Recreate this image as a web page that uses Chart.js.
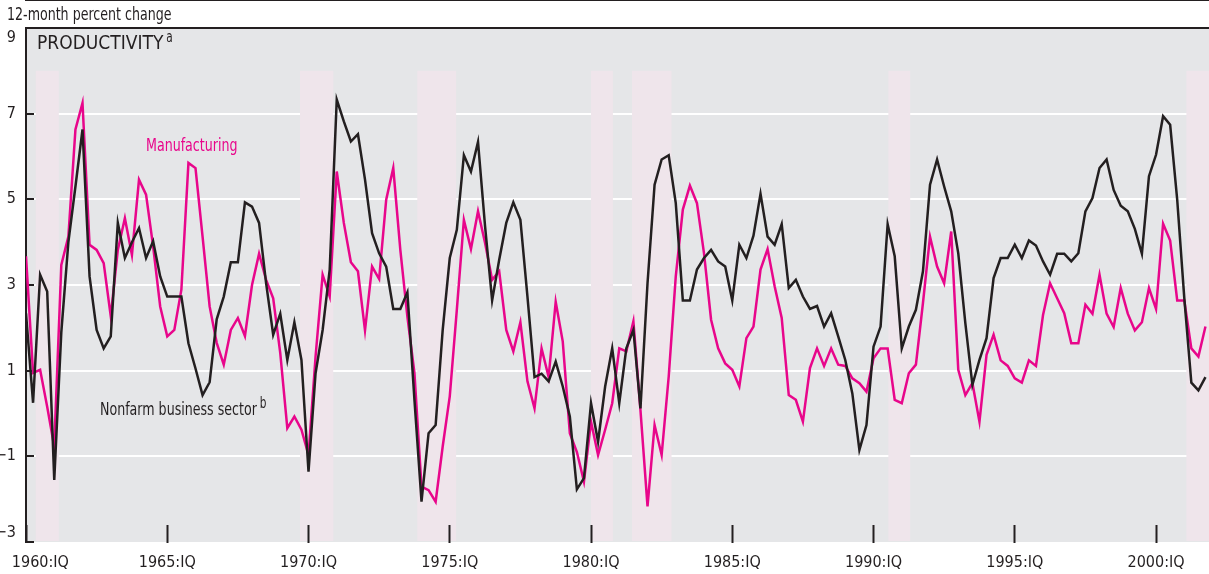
<!DOCTYPE html>
<html>
<head>
<meta charset="utf-8">
<title>Productivity</title>
<script src="https://cdn.jsdelivr.net/npm/chart.js@4.4.1/dist/chart.umd.min.js"></script>
<style>
  html, body { margin: 0; padding: 0; background: #fff; }
  #wrap { width: 1209px; height: 574px; }
</style>
</head>
<body>
<div id="wrap"><canvas id="prodChart" width="1209" height="574"></canvas></div>
<script>
// 12-month percent change, quarterly, 1960:IQ .. 2001:IVQ
var manufacturing = [
  3.67, 0.95, 1.02, 0.16, -0.77, 3.47, 4.13, 6.63, 7.25, 3.94,
  3.82, 3.51, 2.27, 3.82, 4.56, 3.70, 5.46, 5.11, 3.90, 2.50,
  1.80, 1.95, 2.89, 5.85, 5.73, 4.13, 2.50, 1.65, 1.14, 1.95,
  2.23, 1.81, 3.00, 3.73, 3.12, 2.69, 1.41, -0.34, -0.07, -0.38,
  -0.97, 1.33, 3.24, 2.73, 5.65, 4.45, 3.53, 3.32, 1.94, 3.43,
  3.14, 4.99, 5.73, 3.82, 2.26, 0.94, -1.71, -1.79, -2.06, -0.77,
  0.40, 2.42, 4.52, 3.84, 4.72, 3.98, 3.12, 3.32, 1.95, 1.45,
  2.13, 0.75, 0.12, 1.52, 0.85, 2.61, 1.68, -0.46, -0.90, -1.59,
  -0.19, -0.97, -0.38, 0.24, 1.52, 1.45, 2.15, 0.08, -2.17, -0.27,
  -0.97, 0.86, 3.20, 4.76, 5.32, 4.91, 3.74, 2.19, 1.52, 1.17,
  1.02, 0.63, 1.76, 2.03, 3.36, 3.84, 2.97, 2.23, 0.43, 0.32,
  -0.19, 1.06, 1.52, 1.11, 1.52, 1.14, 1.11, 0.82, 0.71, 0.51,
  1.29, 1.52, 1.52, 0.32, 0.24, 0.94, 1.14, 2.58, 4.13, 3.43,
  3.04, 4.25, 1.02, 0.43, 0.71, -0.19, 1.37, 1.84, 1.24, 1.11,
  0.82, 0.72, 1.24, 1.11, 2.30, 3.04, 2.69, 2.34, 1.64, 1.64,
  2.54, 2.33, 3.24, 2.33, 2.02, 2.93, 2.33, 1.94, 2.13, 2.93,
  2.44, 4.43, 4.04, 2.64, 2.64, 1.52, 1.33, 2.03
];
var nonfarm = [
  2.34, 0.25, 3.24, 2.85, -1.55, 1.90, 4.00, 5.30, 6.63, 3.20,
  1.95, 1.52, 1.80, 4.45, 3.63, 4.00, 4.33, 3.63, 4.02, 3.20,
  2.73, 2.73, 2.73, 1.64, 1.05, 0.43, 0.73, 2.20, 2.73, 3.53,
  3.53, 4.93, 4.83, 4.45, 3.04, 1.84, 2.33, 1.25, 2.13, 1.25,
  -1.36, 0.94, 1.95, 3.36, 7.33, 6.82, 6.35, 6.52, 5.46, 4.21,
  3.74, 3.43, 2.44, 2.44, 2.83, 0.32, -2.06, -0.46, -0.27, 1.95,
  3.63, 4.29, 6.03, 5.65, 6.34, 4.37, 2.64, 3.59, 4.45, 4.93,
  4.52, 2.73, 0.85, 0.93, 0.75, 1.21, 0.63, -0.07, -1.77, -1.51,
  0.24, -0.66, 0.63, 1.52, 0.24, 1.52, 1.95, 0.12, 3.04, 5.34,
  5.93, 6.03, 4.91, 2.64, 2.64, 3.36, 3.63, 3.82, 3.55, 3.43,
  2.64, 3.94, 3.63, 4.15, 5.13, 4.13, 3.94, 4.42, 2.93, 3.12,
  2.73, 2.44, 2.51, 2.03, 2.34, 1.80, 1.25, 0.47, -0.85, -0.27,
  1.56, 2.03, 4.42, 3.67, 1.52, 2.03, 2.42, 3.32, 5.34, 5.93,
  5.30, 4.72, 3.74, 2.11, 0.67, 1.25, 1.76, 3.16, 3.63, 3.63,
  3.94, 3.63, 4.04, 3.92, 3.55, 3.24, 3.73, 3.73, 3.55, 3.74,
  4.72, 5.03, 5.73, 5.93, 5.22, 4.85, 4.72, 4.31, 3.73, 5.54,
  6.04, 6.94, 6.74, 4.99, 2.70, 0.72, 0.54, 0.85
];
var xTickLabels = ["1960:IQ", "1965:IQ", "1970:IQ", "1975:IQ", "1980:IQ",
                   "1985:IQ", "1990:IQ", "1995:IQ", "2000:IQ"];
var yTickValues = [-3, -1, 1, 3, 5, 7, 9];
var yTickLabels = ["\u22123", "\u22121", "1", "3", "5", "7", "9"];
// recessions, in quarters from 1960:IQ
var recessionStart = [1.4, 38.8, 55.4, 80.0, 85.8, 122.1, 164.3];
var recessionEnd   = [4.65, 43.5, 60.9, 83.1, 91.4, 125.2, 167.5];

var MAGENTA = "#e8068b";
var INK = "#231f20";
var PLOT_BG = "#e5e6e8";
var BAND = "#efe5eb";
var FONT = '"DejaVu Sans Condensed", "Liberation Sans Narrow", sans-serif';
var SQUEEZE = 0.78; // the print face is a condensed grotesque

Chart.defaults.font.family = FONT;
Chart.defaults.font.size = 16;
Chart.defaults.color = INK;

function toPoints(arr) {
  return arr.map(function (v, i) { return { x: i, y: v }; });
}

// draws (optionally narrowed) text, returns the drawn width
function narrowText(ctx, text, x, y, size, squeeze) {
  ctx.font = size + "px " + FONT;
  var w = ctx.measureText(text).width * squeeze;
  ctx.save();
  ctx.translate(x, y);
  ctx.scale(squeeze, 1);
  ctx.fillText(text, 0, 0);
  ctx.restore();
  return w;
}

var decorations = {
  id: "decorations",
  beforeDraw: function (chart) {
    var a = chart.chartArea, ctx = chart.ctx;
    ctx.save();
    ctx.fillStyle = "#fff";
    ctx.fillRect(0, 0, chart.width, chart.height);
    ctx.fillStyle = PLOT_BG;
    ctx.fillRect(a.left, a.top, a.right - a.left, a.bottom - a.top);
    ctx.restore();
  },
  beforeDatasetsDraw: function (chart) {
    var xs = chart.scales.x, ys = chart.scales.y, a = chart.chartArea, ctx = chart.ctx;
    var top = ys.getPixelForValue(8);
    ctx.save();
    ctx.fillStyle = BAND;
    for (var k = 0; k < recessionStart.length; k++) {
      var x0 = xs.getPixelForValue(recessionStart[k]);
      var x1 = xs.getPixelForValue(recessionEnd[k]);
      ctx.fillRect(x0, top, x1 - x0, a.bottom - 1 - top);
    }
    ctx.restore();
  },
  afterDraw: function (chart) {
    var a = chart.chartArea, ctx = chart.ctx;
    ctx.save();
    // top frame
    ctx.strokeStyle = INK;
    ctx.lineWidth = 2;
    ctx.beginPath();
    ctx.moveTo(a.left - 1, a.top);
    ctx.lineTo(a.right, a.top);
    ctx.stroke();

    ctx.textBaseline = "alphabetic";
    ctx.textAlign = "left";
    ctx.fillStyle = INK;
    narrowText(ctx, "12-month percent change", 7, 20, 18, SQUEEZE);

    var w = narrowText(ctx, "PRODUCTIVITY", 37, 49, 19, 1);
    narrowText(ctx, "a", 37 + w + 3, 42, 15, SQUEEZE);

    w = narrowText(ctx, "Nonfarm business sector", 100, 415, 18, SQUEEZE);
    narrowText(ctx, "b", 100 + w + 3, 408, 15, SQUEEZE);

    ctx.fillStyle = MAGENTA;
    narrowText(ctx, "Manufacturing", 146, 151, 18, SQUEEZE);
    ctx.restore();
  }
};

new Chart(document.getElementById("prodChart"), {
  type: "line",
  data: {
    datasets: [
      {
        label: "Nonfarm business sector",
        data: toPoints(nonfarm),
        borderColor: INK,
        borderWidth: 2.5,
        pointRadius: 0,
        tension: 0
      },
      {
        label: "Manufacturing",
        data: toPoints(manufacturing),
        borderColor: MAGENTA,
        borderWidth: 2.5,
        pointRadius: 0,
        tension: 0
      }
    ]
  },
  options: {
    responsive: false,
    animation: false,
    devicePixelRatio: 1,
    layout: { padding: { top: 28, left: 0, right: 0, bottom: 0 } },
    plugins: { legend: { display: false }, tooltip: { enabled: false } },
    scales: {
      x: {
        type: "linear",
        min: 0,
        max: 167.5,
        afterBuildTicks: function (scale) {
          scale.ticks = xTickLabels.map(function (l, i) { return { value: i * 20 }; });
        },
        afterFit: function (scale) {
          scale.height = 32;
          scale.paddingLeft = 0;
          scale.paddingRight = 0;
        },
        ticks: {
          autoSkip: false,
          maxRotation: 0,
          padding: 28,
          color: INK,
          callback: function (value) {
            var label = xTickLabels[Math.round(value / 20)];
            // first label sits right of the corner, as in the print layout
            return value === 0 ? "\u2002\u2002\u2002\u2002" + label : label;
          }
        },
        grid: {
          drawOnChartArea: false,
          drawTicks: true,
          tickLength: -17,
          tickWidth: 2,
          tickColor: INK,
          z: 1
        },
        border: { display: true, color: INK, width: 2 }
      },
      y: {
        min: -3,
        max: 9,
        afterBuildTicks: function (scale) {
          scale.ticks = yTickValues.map(function (v) { return { value: v }; });
        },
        afterFit: function (scale) {
          scale.width = 26;
          scale.paddingTop = 0;
          scale.paddingBottom = 0;
        },
        ticks: {
          padding: 18,
          color: INK,
          callback: function (value) {
            var label = yTickLabels[yTickValues.indexOf(value)];
            if (value === 9) return ["", label];
            if (value === -3) return [label, ""];
            return label;
          }
        },
        grid: {
          color: function (ctx) {
            var v = ctx.tick ? ctx.tick.value : null;
            return (v === 9 || v === -3) ? "rgba(0,0,0,0)" : "#ffffff";
          },
          lineWidth: 2,
          drawTicks: true,
          tickLength: -8,
          tickWidth: 2,
          tickColor: INK
        },
        border: { display: true, color: INK, width: 2 }
      }
    }
  },
  plugins: [decorations]
});
</script>
</body>
</html>
